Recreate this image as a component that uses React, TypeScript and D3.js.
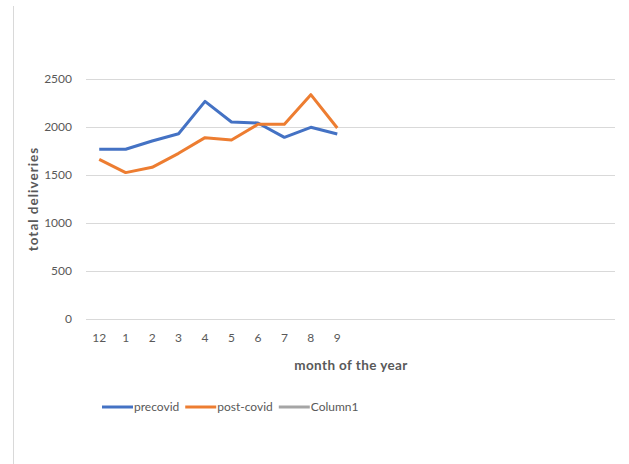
import React, { useRef, useEffect } from "react";
import * as d3 from "d3";

// 20 category slots on the axis, only the first ten are labelled
const months = ["12", "1", "2", "3", "4", "5", "6", "7", "8", "9"];
const slotCount = 20;
const precovid = [1768, 1768, 1854, 1930, 2267, 2052, 2042, 1892, 1997, 1927];
const postcovid = [1663, 1525, 1580, 1726, 1889, 1865, 2028, 2028, 2337, 1990];
const yTicks = [0, 500, 1000, 1500, 2000, 2500];
const legendItems = [
  { name: "precovid", color: "#4472c4" },
  { name: "post-covid", color: "#ed7d31" },
  { name: "Column1", color: "#a5a5a5" },
];

const W = 629;
const H = 464;
const FONT = "Lato, 'Liberation Sans', sans-serif";

const App = () => {
  const ref = useRef<SVGSVGElement>(null);

  useEffect(() => {
    const svg = d3.select(ref.current);
    svg.selectAll("*").remove();

    const plot = { left: 86, right: 615, top: 79, bottom: 319 };

    // chart frame (only left edge visible)
    svg
      .append("line")
      .attr("x1", 13.5)
      .attr("x2", 13.5)
      .attr("y1", 6)
      .attr("y2", H)
      .attr("stroke", "#d9d9d9")
      .attr("stroke-width", 1);

    const slots = d3.range(slotCount).map(String);
    const x = d3
      .scaleBand()
      .domain(slots)
      .range([plot.left, plot.right]);

    const y = d3
      .scaleLinear()
      .domain([0, 2500])
      .range([plot.bottom, plot.top]);

    // gridlines + y labels
    const yAxis = d3
      .axisLeft(y)
      .tickValues(yTicks)
      .tickSize(-(plot.right - plot.left))
      .tickPadding(14)
      .tickFormat(d3.format("d"));

    svg
      .append("g")
      .attr("transform", `translate(${plot.left},0)`)
      .call(yAxis)
      .call((g) => g.select(".domain").remove())
      .call((g) =>
        g.selectAll(".tick line").attr("stroke", "#d9d9d9").attr("stroke-width", 1)
      )
      .call((g) =>
        g
          .selectAll(".tick text")
          .attr("fill", "#595959")
          .style("font-family", FONT)
          .style("font-size", "12px")
      );

    // x labels
    const xAxis = d3
      .axisBottom(x)
      .tickSize(0)
      .tickPadding(14)
      .tickFormat((d) => months[+d] ?? "");

    svg
      .append("g")
      .attr("transform", `translate(0,${plot.bottom})`)
      .call(xAxis)
      .call((g) => g.select(".domain").remove())
      .call((g) =>
        g
          .selectAll(".tick text")
          .attr("fill", "#595959")
          .style("font-family", FONT)
          .style("font-size", "12px")
      );

    // lines
    const cx = (i: number) => (x(String(i)) ?? 0) + x.bandwidth() / 2;
    const line = d3
      .line<number>()
      .x((_, i) => cx(i))
      .y((d) => y(d));

    [
      { data: precovid, color: legendItems[0].color },
      { data: postcovid, color: legendItems[1].color },
    ].forEach((s) => {
      svg
        .append("path")
        .datum(s.data)
        .attr("fill", "none")
        .attr("stroke", s.color)
        .attr("stroke-width", 3)
        .attr("stroke-linejoin", "round")
        .attr("d", line);
    });

    // axis titles
    svg
      .append("text")
      .attr("x", 351)
      .attr("y", 370)
      .attr("text-anchor", "middle")
      .attr("fill", "#595959")
      .style("font-family", FONT)
      .style("font-size", "13.5px")
      .style("font-weight", "bold")
      .style("letter-spacing", "0.4px")
      .text("month of the year");

    svg
      .append("text")
      .attr("transform", `translate(38,${(plot.top + plot.bottom) / 2}) rotate(-90)`)
      .attr("text-anchor", "middle")
      .attr("fill", "#595959")
      .style("font-family", FONT)
      .style("font-size", "13.5px")
      .style("font-weight", "bold")
      .style("letter-spacing", "1px")
      .text("total deliveries");

    // legend
    const lg = svg.append("g").attr("transform", "translate(102,407)");
    let offset = 0;
    legendItems.forEach((item) => {
      const g = lg.append("g").attr("transform", `translate(${offset},0)`);
      g.append("line")
        .attr("x1", 0)
        .attr("x2", 31)
        .attr("y1", 0)
        .attr("y2", 0)
        .attr("stroke", item.color)
        .attr("stroke-width", 3);
      const t = g
        .append("text")
        .attr("x", 32)
        .attr("y", 4)
        .attr("fill", "#595959")
        .style("font-family", FONT)
        .style("font-size", "12px")
        .text(item.name);
      const tw = (t.node() as SVGTextElement).getComputedTextLength();
      offset += 32 + tw + 6;
    });
  }, []);

  return (
    <svg
      ref={ref}
      width={W}
      height={H}
      style={{ position: "absolute", left: 0, top: 0, background: "#fff" }}
    />
  );
};

export default App;
